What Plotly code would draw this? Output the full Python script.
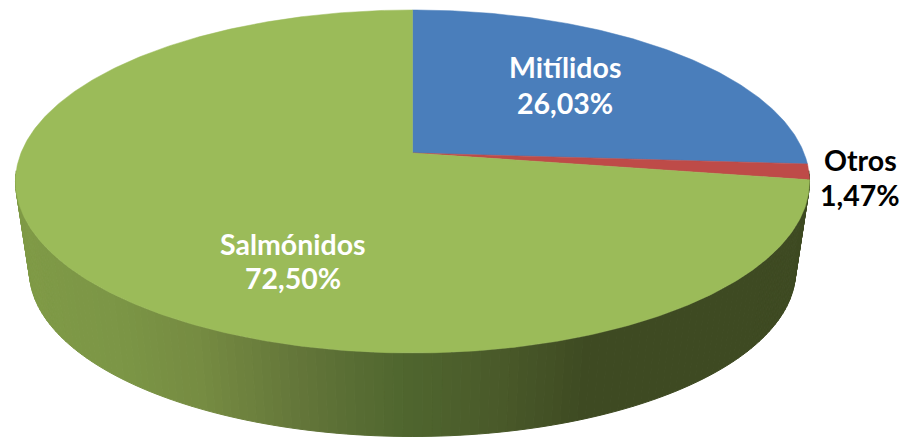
import numpy as np
import plotly.graph_objects as go

categories = ["Mitílidos", "Otros", "Salmónidos"]
shares = [26.03, 1.47, 72.50]
share_labels = ["26,03%", "1,47%", "72,50%"]
colors = ["#4A7EBB", "#BE4B48", "#9BBB59"]
label_colors = ["white", "black", "white"]
name_xy = [(565, 67), (860, 160), (293, 244)]
share_xy = [(565, 103), (860, 195), (293, 278)]

# Wall shading stops (x pixel, rgb)
wall_x = [15, 120, 200, 300, 400, 500, 590, 810]
wall_r = [128, 124, 118, 100, 80, 74, 62, 62]
wall_g = [155, 150, 140, 118, 103, 90, 74, 74]
wall_b = [71, 70, 66, 58, 47, 42, 34, 34]

CX, CY, A, B, K = 412.5, 153, 391.5, 166.8, 0.166
SCALE, CY2 = 0.965, 243.5


def project(theta, scale=1.0, cy=CY):
    X, Y = np.sin(theta), np.cos(theta)
    w = 1 + K * Y
    return CX + scale * A * X / w, cy - scale * B * Y / w


fig = go.Figure()

# side wall, visible from the right tangent round to the left tangent
edges = np.radians(np.linspace(96, 264, 141))
for t0, t1 in zip(edges[:-1], edges[1:]):
    ts = np.array([t0, t1])
    xu, yu = project(ts)
    xl, yl = project(ts[::-1], SCALE, CY2)
    xs = np.r_[xu, xl, xu[0]]
    ys = np.r_[yu, yl, yu[0]]
    xm = xs.mean()
    c = "rgb(%d,%d,%d)" % (
        np.interp(xm, wall_x, wall_r),
        np.interp(xm, wall_x, wall_g),
        np.interp(xm, wall_x, wall_b),
    )
    fig.add_trace(go.Scatter(x=xs, y=ys, mode="lines", fill="toself", fillcolor=c,
                             line=dict(color=c, width=1), hoverinfo="skip", showlegend=False))

# top face wedges, sized from the shares
start = 0.0
for name, share, color in zip(categories, shares, colors):
    end = start + share / sum(shares) * 2 * np.pi
    ts = np.linspace(start, end, max(int(share * 6), 8))
    x, y = project(ts)
    fig.add_trace(go.Scatter(x=np.r_[CX, x, CX], y=np.r_[CY, y, CY], mode="lines", fill="toself",
                             fillcolor=color, line=dict(color=color, width=0.5),
                             name=name, hoverinfo="name", showlegend=False))
    start = end

for name, lab, col, (nx, ny), (sx, sy) in zip(categories, share_labels, label_colors, name_xy, share_xy):
    for text, tx, ty in ((name, nx, ny), (lab, sx, sy)):
        fig.add_annotation(x=tx, y=ty, text=f"<b>{text}</b>", showarrow=False,
                           font=dict(family="Lato", size=28.5, color=col), align="center")

fig.update_layout(
    width=903, height=437, margin=dict(l=0, r=0, t=0, b=0),
    paper_bgcolor="white", plot_bgcolor="white",
    xaxis=dict(range=[0, 903], visible=False, fixedrange=True),
    yaxis=dict(range=[437, 0], visible=False, fixedrange=True),
)
fig.write_html("out.html", config={"displayModeBar": False},
               post_script="document.body.style.margin='0';document.body.style.overflow='hidden';")
